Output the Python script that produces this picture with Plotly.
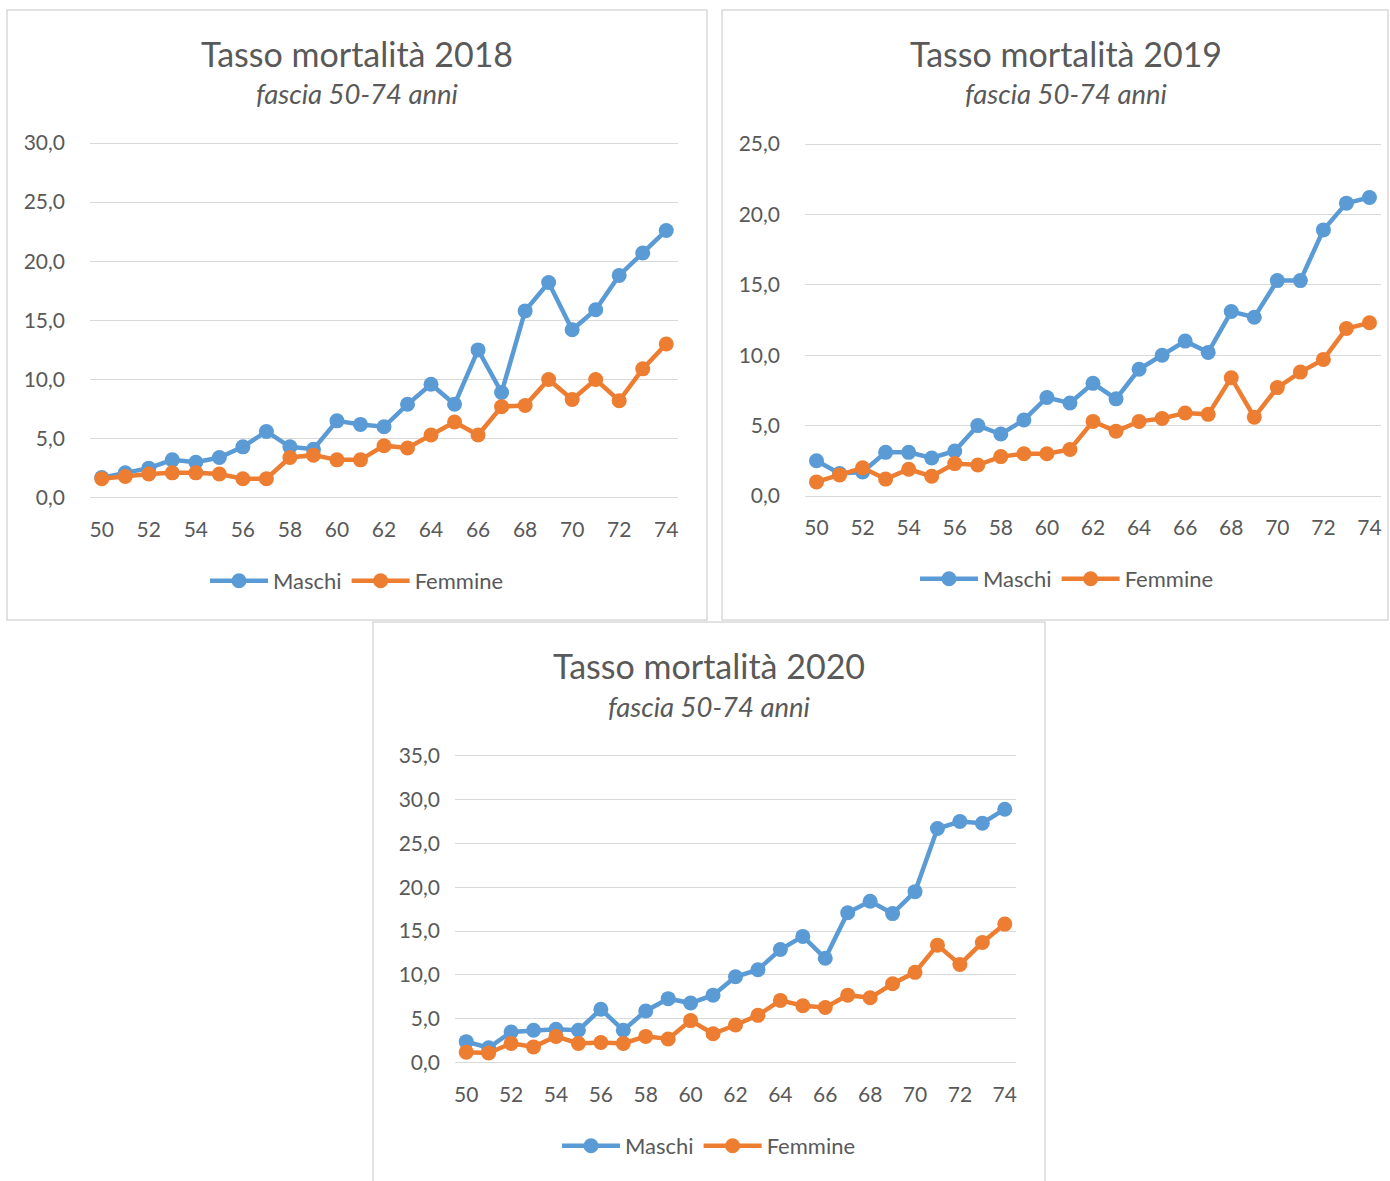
import plotly.graph_objects as go

W, H = 1390, 1181

ages = list(range(50, 75))

maschi_2018 = [1.7, 2.1, 2.5, 3.2, 3.0, 3.4, 4.3, 5.6, 4.3, 4.1, 6.5, 6.2, 6.0,
               7.9, 9.6, 7.9, 12.5, 8.9, 15.8, 18.2, 14.2, 15.9, 18.8, 20.7, 22.6]
femmine_2018 = [1.6, 1.8, 2.0, 2.1, 2.1, 2.0, 1.6, 1.6, 3.4, 3.6, 3.2, 3.2, 4.4,
                4.2, 5.3, 6.4, 5.3, 7.7, 7.8, 10.0, 8.3, 10.0, 8.2, 10.9, 13.0]

maschi_2019 = [2.5, 1.6, 1.7, 3.1, 3.1, 2.7, 3.2, 5.0, 4.4, 5.4, 7.0, 6.6, 8.0,
               6.9, 9.0, 10.0, 11.0, 10.2, 13.1, 12.7, 15.3, 15.3, 18.9, 20.8, 21.2]
femmine_2019 = [1.0, 1.5, 2.0, 1.2, 1.9, 1.4, 2.3, 2.2, 2.8, 3.0, 3.0, 3.3, 5.3,
                4.6, 5.3, 5.5, 5.9, 5.8, 8.4, 5.6, 7.7, 8.8, 9.7, 11.9, 12.3]

maschi_2020 = [2.4, 1.7, 3.5, 3.7, 3.8, 3.7, 6.1, 3.7, 5.9, 7.3, 6.8, 7.7, 9.8,
               10.6, 12.9, 14.4, 11.9, 17.1, 18.4, 17.0, 19.5, 26.7, 27.5, 27.3, 28.9]
femmine_2020 = [1.2, 1.1, 2.2, 1.8, 3.0, 2.2, 2.3, 2.2, 3.0, 2.7, 4.8, 3.3, 4.3,
                5.4, 7.1, 6.5, 6.3, 7.7, 7.4, 9.0, 10.3, 13.4, 11.2, 13.7, 15.8]

years = ["2018", "2019", "2020"]
y_max = [30, 25, 35]

BLUE, ORANGE = "#5B9BD5", "#ED7D31"
TEXT, GRID = "#595959", "#D9D9D9"
FONT = "Lato"
PAD = 3  # px of extra room so plotly keeps the gridlines at 0 and at the max

# pixel boxes: plot area (left, right, top, bottom), panel frame, title centre, legend centre
panels = [
    dict(plot=(90, 678, 143, 497.7), frame=(7, 707, 10, 620), cx=357, ty=53, sy=94,
         leg=(360, 581), ystand=24),
    dict(plot=(805, 1381, 144, 496), frame=(722, 1388, 10, 620), cx=1066, ty=53, sy=94,
         leg=(1070, 579), ystand=24),
    dict(plot=(455, 1016, 755.7, 1062.7), frame=(373, 1045, 622, 1190), cx=709, ty=665, sy=706,
         leg=(712, 1146), ystand=14),
]


def px_x(v):
    return v / W


def px_y(v):
    return 1 - v / H


fig = go.Figure()
series = [(maschi_2018, femmine_2018), (maschi_2019, femmine_2019), (maschi_2020, femmine_2020)]
shapes, annotations = [], []
layout_axes = {}

for i, ((m, f), year, ymax, p) in enumerate(zip(series, years, y_max, panels)):
    n = "" if i == 0 else str(i + 1)
    leg = "legend" + n
    for name, vals, col in (("Maschi", m, BLUE), ("Femmine", f, ORANGE)):
        fig.add_trace(go.Scatter(
            x=ages, y=vals, name=name, mode="lines+markers",
            line=dict(color=col, width=4.5), marker=dict(color=col, size=15),
            xaxis="x" + n, yaxis="y" + n, legend=leg,
        ))
    l, r, t, b = p["plot"]
    eps = PAD * ymax / (b - t)
    layout_axes["xaxis" + n] = dict(
        domain=[px_x(l), px_x(r)], anchor="y" + n, range=[49.5, 74.5],
        tick0=50, dtick=2, showgrid=False, zeroline=False, automargin=False,
        showline=False, ticks="", ticklabelstandoff=14,
        tickfont=dict(family=FONT, size=21, color=TEXT),
    )
    layout_axes["yaxis" + n] = dict(
        domain=[px_y(b + PAD), px_y(t - PAD)], anchor="x" + n,
        range=[-eps, ymax + eps], dtick=5, tick0=0, tickformat=".1f",
        showgrid=True, gridcolor=GRID, gridwidth=1.3,
        zeroline=False, showline=False, ticks="", ticklabelstandoff=p["ystand"],
        automargin=False, tickfont=dict(family=FONT, size=21, color=TEXT),
    )
    fx0, fx1, fy0, fy1 = p["frame"]
    shapes.append(dict(type="rect", xref="paper", yref="paper",
                       x0=px_x(fx0), x1=px_x(fx1), y0=px_y(fy1), y1=px_y(fy0),
                       line=dict(color=GRID, width=1.5), layer="below"))
    annotations.append(dict(text="Tasso mortalità " + year, xref="paper", yref="paper",
                            x=px_x(p["cx"]), y=px_y(p["ty"]), xanchor="center",
                            yanchor="middle", showarrow=False,
                            font=dict(family=FONT, size=34, color=TEXT)))
    annotations.append(dict(text="<i>fascia 50-74 anni</i>", xref="paper", yref="paper",
                            x=px_x(p["cx"]), y=px_y(p["sy"]), xanchor="center",
                            yanchor="middle", showarrow=False,
                            font=dict(family=FONT, size=27.5, color=TEXT)))
    lx, ly = p["leg"]
    layout_axes[leg] = dict(orientation="h", x=px_x(lx - 3), y=px_y(ly), xanchor="center",
                            yanchor="middle", itemwidth=58,
                            font=dict(family=FONT, size=22, color=TEXT),
                            bgcolor="rgba(0,0,0,0)")

fig.update_layout(
    width=W, height=H, autosize=False,
    margin=dict(l=0, r=0, t=0, b=0, autoexpand=False),
    paper_bgcolor="white", plot_bgcolor="white",
    separators=",.", showlegend=True,
    shapes=shapes, annotations=annotations,
    **layout_axes,
)

fig.write_html("out.html", config={"displayModeBar": False},
               post_script="document.body.style.margin='0';")
